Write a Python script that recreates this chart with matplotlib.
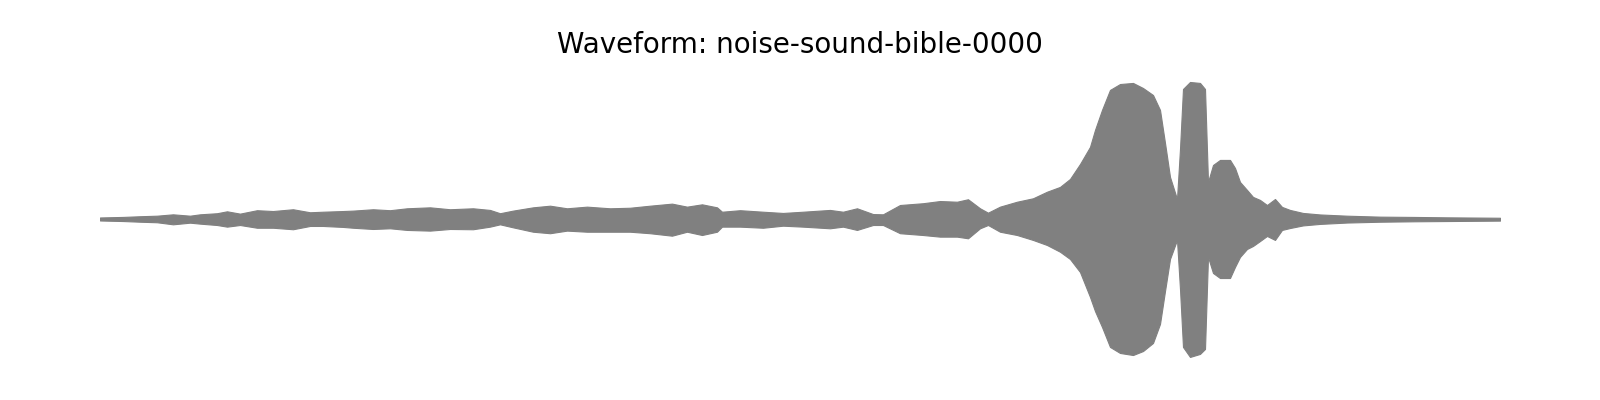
#!/usr/bin/env python3
# -*- coding: utf-8 -*-
# ============================================================================
# Waveform envelope plot
# ----------------------------------------------------------------------------
# Draws the amplitude envelope of one clip as a filled gray band, axis hidden.
# ============================================================================

# -----------------------------------------------------------------------------
# Import
# -----------------------------------------------------------------------------

import matplotlib

matplotlib.use("Agg")
import matplotlib.pyplot as plt
import numpy as np

# -----------------------------------------------------------------------------
# Data (envelope, amplitude normalised to peak = 1)
# -----------------------------------------------------------------------------

CLIP_NAME = "noise-sound-bible-0000"

# Time of each envelope sample (seconds).
TIME_S = [
    0.000, 0.115, 0.200, 0.285, 0.365, 0.450, 0.500, 0.585, 0.635, 0.700,
    0.785, 0.865, 0.965, 1.050, 1.115, 1.215, 1.265, 1.365, 1.450, 1.535,
    1.650, 1.750, 1.865, 1.950, 2.000, 2.065, 2.165, 2.250, 2.335, 2.435,
    2.550, 2.650, 2.750, 2.860, 2.935, 3.010, 3.085, 3.110, 3.200, 3.315,
    3.415, 3.515, 3.650, 3.715, 3.785, 3.865, 3.915, 4.000, 4.115, 4.200,
    4.285, 4.340, 4.400, 4.440, 4.500, 4.585, 4.665, 4.735, 4.800, 4.850,
    4.900, 4.950, 4.975, 5.010, 5.050, 5.100, 5.165, 5.215, 5.265, 5.300,
    5.325, 5.350, 5.385, 5.400, 5.415, 5.450, 5.500, 5.525, 5.540, 5.565,
    5.600, 5.650, 5.675, 5.700, 5.735, 5.765, 5.800, 5.835, 5.875, 5.910,
    5.950, 6.015, 6.100, 6.235, 6.400, 6.565, 6.735, 7.000,
]

# Upper envelope.
UPPER = [
    0.011, 0.015, 0.020, 0.024, 0.034, 0.024, 0.034, 0.042, 0.056, 0.039,
    0.064, 0.058, 0.071, 0.049, 0.053, 0.058, 0.061, 0.071, 0.064, 0.078,
    0.085, 0.071, 0.078, 0.066, 0.042, 0.061, 0.085, 0.097, 0.078, 0.090,
    0.078, 0.082, 0.097, 0.112, 0.090, 0.107, 0.085, 0.053, 0.064, 0.053,
    0.044, 0.053, 0.066, 0.053, 0.078, 0.036, 0.034, 0.102, 0.115, 0.131,
    0.126, 0.144, 0.078, 0.046, 0.090, 0.126, 0.151, 0.199, 0.234, 0.292,
    0.401, 0.526, 0.650, 0.796, 0.942, 0.985, 0.993, 0.956, 0.905, 0.796,
    0.555, 0.307, 0.146, 0.511, 0.949, 1.000, 0.993, 0.949, 0.270, 0.394,
    0.431, 0.431, 0.372, 0.270, 0.212, 0.161, 0.139, 0.102, 0.146, 0.088,
    0.066, 0.044, 0.033, 0.024, 0.017, 0.015, 0.012, 0.009,
]

# Lower envelope (magnitude below zero).
LOWER = [
    0.011, 0.015, 0.020, 0.024, 0.039, 0.027, 0.034, 0.044, 0.056, 0.044,
    0.064, 0.064, 0.075, 0.051, 0.051, 0.058, 0.064, 0.073, 0.068, 0.080,
    0.085, 0.073, 0.075, 0.056, 0.039, 0.061, 0.093, 0.104, 0.085, 0.093,
    0.093, 0.093, 0.104, 0.122, 0.093, 0.117, 0.093, 0.056, 0.056, 0.064,
    0.049, 0.056, 0.068, 0.056, 0.080, 0.044, 0.044, 0.104, 0.117, 0.129,
    0.129, 0.141, 0.068, 0.044, 0.093, 0.117, 0.153, 0.190, 0.239, 0.292,
    0.387, 0.569, 0.672, 0.788, 0.934, 0.978, 0.993, 0.964, 0.905, 0.766,
    0.526, 0.292, 0.153, 0.511, 0.934, 1.007, 0.985, 0.949, 0.277, 0.394,
    0.431, 0.431, 0.350, 0.277, 0.219, 0.197, 0.161, 0.124, 0.153, 0.080,
    0.066, 0.047, 0.036, 0.026, 0.020, 0.017, 0.015, 0.012,
]

# -----------------------------------------------------------------------------
# Main script
# -----------------------------------------------------------------------------


def main() -> None:
    """Draw the waveform envelope and save it to out.png."""
    t = np.asarray(TIME_S)
    upper = np.asarray(UPPER)
    lower = -np.asarray(LOWER)

    fig = plt.figure(figsize=(16, 4), dpi=100)
    ax = fig.add_axes([0.0625, 0.0758, 0.875, 0.7535])

    # Filled band between lower and upper envelope, thin edge to soften it.
    ax.fill_between(t, lower, upper, facecolor="gray", edgecolor="gray",
                    linewidth=0.8)

    ax.set_xlim(t[0], t[-1])
    ax.set_ylim(-1.1, 1.1)
    ax.set_title(f"Waveform: {CLIP_NAME}", fontsize=20, pad=11)
    ax.axis("off")

    fig.savefig("out.png", dpi=100)


# -----------------------------------------------------------------------------
# Entry point
# -----------------------------------------------------------------------------

if __name__ == "__main__":
    main()

# end of file
